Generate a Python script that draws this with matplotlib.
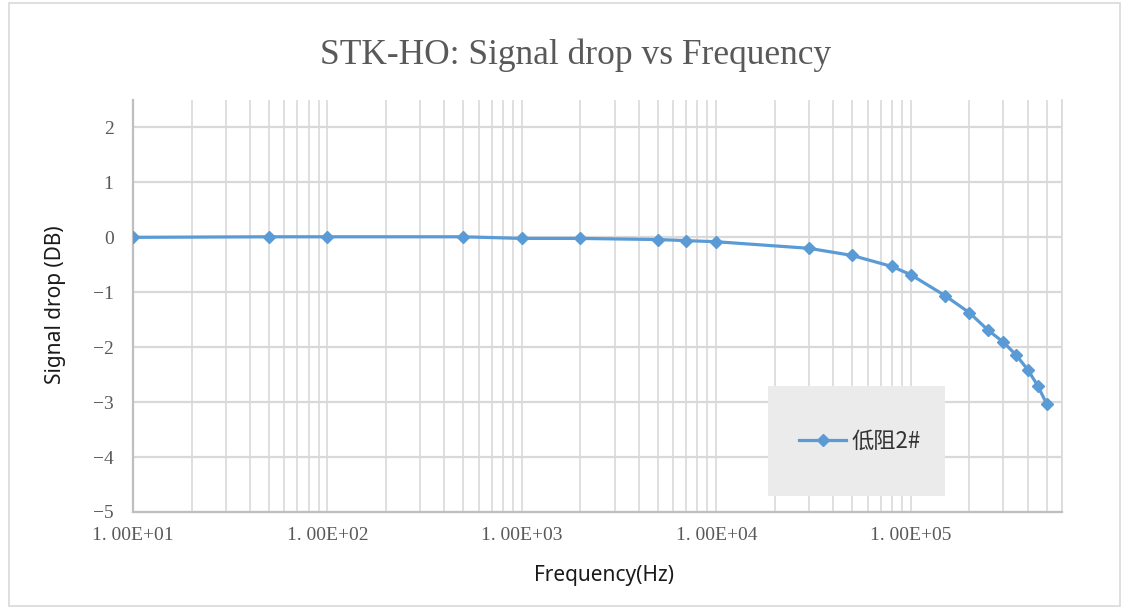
import numpy as np
import matplotlib
matplotlib.use("Agg")
import matplotlib.pyplot as plt
from matplotlib.patches import Rectangle
from matplotlib.ticker import FixedLocator, NullFormatter


# =========================
# Data
# =========================

freq_hz = [10, 50, 100, 500, 1000, 2000, 5000, 7000, 10000, 30000, 50000,
           80000, 100000, 150000, 200000, 250000, 300000, 350000, 400000,
           450000, 500000]
drop_db = [0.0, 0.01, 0.01, 0.01, -0.02, -0.02, -0.04, -0.06, -0.08, -0.2,
           -0.33, -0.53, -0.68, -1.06, -1.37, -1.69, -1.91, -2.15, -2.41,
           -2.70, -3.03]

series_name = "低阻2#"
x_ticks = [1e1, 1e2, 1e3, 1e4, 1e5]
x_tick_labels = ["1. 00E+01", "1. 00E+02", "1. 00E+03", "1. 00E+04", "1. 00E+05"]
y_ticks = [2, 1, 0, -1, -2, -3, -4, -5]

BLUE = "#5B9BD5"
GRID = "#D9D9D9"
TEXT_GRAY = "#595959"
SERIF = "Liberation Serif"


# =========================
# Figure
# =========================

fig = plt.figure(figsize=(11.37, 6.08), dpi=100)
ax = fig.add_axes([133 / 1137, 1 - 512 / 608, (1062 - 133) / 1137, (512 - 100) / 608])

ax.plot(freq_hz, drop_db, color=BLUE, lw=2.3, marker="D", ms=6,
        label=series_name, zorder=4)

ax.set_xscale("log")
ax.set_xlim(10, 6e5)
ax.set_ylim(-5, 2.5)

ax.xaxis.set_major_locator(FixedLocator(x_ticks))
ax.set_xticklabels(x_tick_labels)
minor = [m * 10 ** e for e in range(1, 6) for m in range(2, 10) if m * 10 ** e <= 6e5]
ax.xaxis.set_minor_locator(FixedLocator(minor))
ax.xaxis.set_minor_formatter(NullFormatter())
ax.set_yticks(y_ticks)
ax.set_yticklabels([str(v).replace("-", "\u2212") for v in y_ticks])

ax.grid(True, which="both", axis="x", color=GRID, lw=1.2, zorder=0)
ax.grid(True, which="major", axis="y", color=GRID, lw=1.6, zorder=0)
ax.set_axisbelow(True)

ax.tick_params(which="both", length=0)
ax.tick_params(axis="x", pad=11)
ax.tick_params(axis="y", pad=14)
for lab in ax.get_xticklabels() + ax.get_yticklabels():
    lab.set_fontfamily(SERIF)
    lab.set_fontsize(14)
    lab.set_color(TEXT_GRAY)

ax.spines["top"].set_visible(False)
ax.spines["right"].set_color(GRID)
ax.spines["right"].set_linewidth(1.2)
ax.spines["left"].set_color("#BFBFBF")
ax.spines["bottom"].set_color("#BFBFBF")
ax.spines["left"].set_linewidth(1.6)
ax.spines["bottom"].set_linewidth(1.6)

# titles
fig.text(576 / 1137, 1 - 55 / 608, "STK-HO: Signal drop vs Frequency",
         ha="center", va="center", fontsize=25.5, family=SERIF, color=TEXT_GRAY)
fig.text(604 / 1137, 1 - 575 / 608, "Frequency(Hz)", ha="center", va="center",
         fontsize=15, family="Noto Sans", color="#1a1a1a")
fig.text(55 / 1137, 1 - 305 / 608, "Signal drop (DB)", ha="center", va="center",
         rotation=90, fontsize=15, family="Noto Sans", color="#1a1a1a")

# legend box
box = Rectangle((768 / 1137, 1 - 496 / 608), 177 / 1137, 110 / 608,
                transform=fig.transFigure, facecolor="#EBEBEB",
                edgecolor="none", zorder=3)
ax.add_patch(box)
box.set_clip_on(False)
leg = ax.legend(loc="center", bbox_to_anchor=(860 / 1137, 1 - 441 / 608),
                bbox_transform=fig.transFigure, frameon=False,
                handlelength=2.1, handletextpad=0.25, borderpad=0,
                prop={"family": ["Noto Sans CJK SC", "DejaVu Sans"], "size": 16})
leg.set_zorder(5)
for t in leg.get_texts():
    t.set_color("#333333")

# chart border
fig.patches.append(Rectangle((9 / 1137, 2 / 608), 1111 / 1137, 603 / 608,
                             transform=fig.transFigure, facecolor="none",
                             edgecolor="#D9D9D9", lw=1.2))

fig.savefig("out.png", dpi=100)
